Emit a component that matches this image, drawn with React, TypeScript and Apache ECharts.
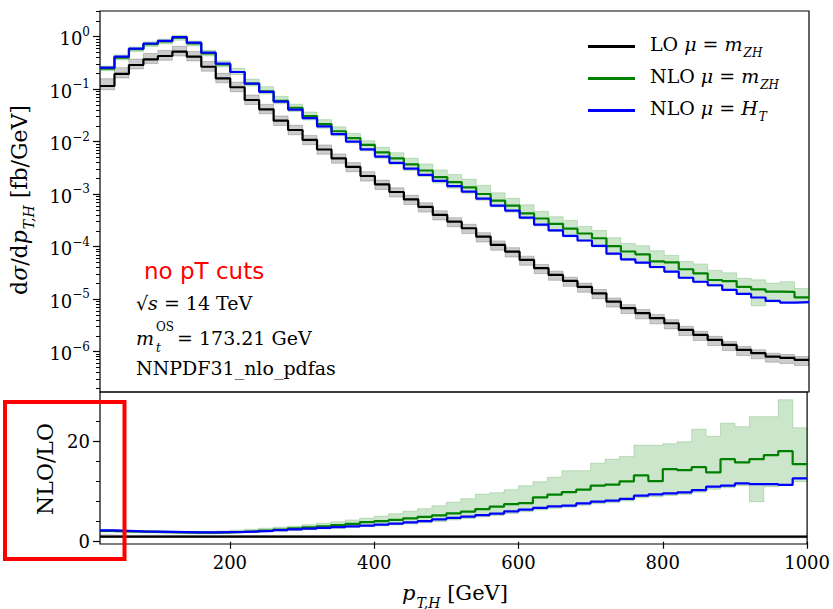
import React, { useEffect, useRef } from 'react';
import * as echarts from 'echarts';

// ---------------- data ----------------
const binEdges = [
  20, 40, 60, 80, 100, 120, 140, 160, 180, 200,
  220, 240, 260, 280, 300, 320, 340, 360, 380, 400,
  420, 440, 460, 480, 500, 520, 540, 560, 580, 600,
  620, 640, 660, 680, 700, 720, 740, 760, 780, 800,
  820, 840, 860, 880, 900, 920, 940, 960, 980, 1000,
];

// LO dσ/dpT [fb/GeV], one value per 20 GeV bin
const loXsec = [
  0.115, 0.195, 0.289, 0.371, 0.429, 0.518, 0.416, 0.268, 0.161, 0.109,
  0.0623, 0.0414, 0.0251, 0.0167, 0.0108, 0.0071, 0.00479, 0.0033, 0.00222, 0.00153,
  0.0011, 0.000793, 0.00057, 0.000402, 0.000299, 0.000224, 0.000155, 0.000108, 8.03e-5, 5.58e-5,
  3.88e-5, 2.89e-5, 2.22e-5, 1.71e-5, 1.29e-5, 8.96e-6, 6.71e-6, 5.39e-6, 4.33e-6, 3.47e-6,
  2.59e-6, 2.08e-6, 1.67e-6, 1.34e-6, 1.08e-6, 9.33e-7, 8.04e-7, 7.58e-7, 6.95e-7,
];
// LO scale-variation envelope, relative to LO central
const loScaleUp = [
  1.38, 1.32, 1.3, 1.29, 1.28, 1.27, 1.26, 1.26, 1.25, 1.25,
  1.24, 1.24, 1.23, 1.23, 1.22, 1.22, 1.22, 1.21, 1.21, 1.21,
  1.2, 1.2, 1.2, 1.2, 1.19, 1.19, 1.19, 1.19, 1.19, 1.18,
  1.18, 1.18, 1.18, 1.18, 1.18, 1.17, 1.17, 1.17, 1.17, 1.17,
  1.17, 1.17, 1.17, 1.16, 1.16, 1.16, 1.16, 1.16, 1.16,
];
const loScaleDown = [
  0.85, 0.84, 0.84, 0.83, 0.83, 0.83, 0.83, 0.82, 0.82, 0.82,
  0.82, 0.82, 0.81, 0.81, 0.81, 0.81, 0.81, 0.81, 0.8, 0.8,
  0.8, 0.8, 0.8, 0.8, 0.8, 0.79, 0.79, 0.79, 0.79, 0.79,
  0.79, 0.79, 0.79, 0.79, 0.79, 0.79, 0.79, 0.78, 0.78, 0.78,
  0.78, 0.78, 0.78, 0.78, 0.78, 0.78, 0.78, 0.78, 0.78,
];
// NLO / LO, μ = m_ZH (central)
const ratioNloMzh = [
  2.15, 2.05, 2.0, 1.95, 1.9, 1.85, 1.8, 1.8, 1.85, 1.95,
  2.05, 2.2, 2.4, 2.65, 2.85, 3.05, 3.3, 3.55, 3.9, 4.1,
  4.35, 4.65, 4.95, 5.25, 5.65, 6.0, 6.5, 7.0, 7.5, 7.7,
  8.85, 9.4, 9.9, 10.4, 11.2, 11.4, 12.05, 13.25, 12.1, 14.5,
  14.3, 14.9, 13.85, 16.5, 15.85, 16.5, 17.3, 18.1, 15.5,
];
// NLO / LO, μ = m_ZH scale band
const ratioNloMzhHigh = [
  2.4, 2.3, 2.2, 2.15, 2.1, 2.05, 2.0, 2.05, 2.15, 2.3,
  2.5, 2.7, 2.9, 3.1, 3.4, 3.7, 4.0, 4.35, 4.7, 5.1,
  5.6, 6.1, 6.6, 7.2, 7.9, 8.6, 9.5, 9.8, 10.4, 11.2,
  12.0, 12.9, 14.2, 14.2, 15.7, 16.5, 17.05, 19.3, 19.3, 19.6,
  20.0, 22.5, 21.1, 23.7, 23.0, 25.0, 25.0, 28.4, 22.8,
];
const ratioNloMzhLow = [
  1.95, 1.85, 1.8, 1.75, 1.7, 1.65, 1.6, 1.6, 1.65, 1.75,
  1.85, 1.95, 2.1, 2.25, 2.4, 2.55, 2.7, 2.85, 3.0, 3.15,
  3.35, 3.55, 3.8, 4.05, 4.35, 4.65, 4.95, 5.25, 5.65, 6.0,
  6.35, 6.7, 6.9, 7.3, 7.6, 7.8, 8.15, 8.8, 9.0, 9.25,
  9.45, 9.9, 10.5, 10.8, 11.25, 8.0, 11.0, 11.3, 12.0,
];
// NLO / LO, μ = H_T
const ratioNloHt = [
  2.25, 2.15, 2.05, 2.0, 1.95, 1.9, 1.85, 1.85, 1.9, 1.95,
  2.05, 2.15, 2.3, 2.45, 2.6, 2.75, 2.9, 3.05, 3.2, 3.4,
  3.6, 3.85, 4.1, 4.45, 4.75, 5.0, 5.3, 5.6, 6.05, 6.4,
  6.75, 7.05, 7.2, 7.65, 8.0, 8.2, 8.55, 9.2, 9.45, 9.65,
  9.85, 10.3, 11.0, 11.2, 11.65, 11.5, 11.5, 11.35, 12.65,
];

const xTickValues = [200, 400, 600, 800, 1000];
const topDecades = [-6, -5, -4, -3, -2, -1, 0];
const ratioMajorTicks = [0, 20];
const ratioMinorTicks = [4, 8, 12, 16, 24, 28];

const seriesNames = ['LO μ = m_ZH', 'NLO μ = m_ZH', 'NLO μ = H_T'];
const seriesColors = ['#000000', '#008000', '#0000ff'];

// ---------------- helpers ----------------
const SERIF = 'DejaVu Serif';
const TOP_MIN = -6.77;
const TOP_MAX = 0.49;
const R_MIN = -0.46;
const R_MAX = 29.94;

const lg = (v: number) => Math.log10(v);
const id = (v: number) => v;

const nloMzh = loXsec.map((v, i) => v * ratioNloMzh[i]);
const nloHt = loXsec.map((v, i) => v * ratioNloHt[i]);
const nloMzhHigh = loXsec.map((v, i) => v * ratioNloMzhHigh[i]);
const nloMzhLow = loXsec.map((v, i) => v * ratioNloMzhLow[i]);
const loHigh = loXsec.map((v, i) => v * loScaleUp[i]);
const loLow = loXsec.map((v, i) => v * loScaleDown[i]);
const loRatio = loXsec.map((v) => v / v);

function stepData(vals: number[], tf: (v: number) => number) {
  const pts = vals.map((v, i) => [binEdges[i], tf(v)]);
  pts.push([binEdges[vals.length], tf(vals[vals.length - 1])]);
  return pts;
}

function lineSeries(name: string, vals: number[], color: string, axis: number, tf: (v: number) => number, z: number) {
  return {
    type: 'line',
    name,
    xAxisIndex: axis,
    yAxisIndex: axis * 2,
    data: stepData(vals, tf),
    step: 'end',
    showSymbol: false,
    symbol: 'none',
    clip: true,
    z,
    lineStyle: { color, width: 2.2 },
    itemStyle: { color },
    emphasis: { disabled: true },
  };
}

// filled step band (one polygon) between lo and hi, placed via the axes
function bandSeries(lo: number[], hi: number[], fill: string, stroke: string, axis: number, tf: (v: number) => number, z: number) {
  return {
    type: 'custom',
    xAxisIndex: axis,
    yAxisIndex: axis * 2,
    silent: true,
    clip: true,
    z,
    data: [[binEdges[0], tf(lo[0])]],
    renderItem: (_params: any, api: any) => {
      const pts: number[][] = [];
      for (let i = 0; i < hi.length; i++) {
        pts.push(api.coord([binEdges[i], tf(hi[i])]));
        pts.push(api.coord([binEdges[i + 1], tf(hi[i])]));
      }
      for (let i = lo.length - 1; i >= 0; i--) {
        pts.push(api.coord([binEdges[i + 1], tf(lo[i])]));
        pts.push(api.coord([binEdges[i], tf(lo[i])]));
      }
      return {
        type: 'polygon',
        shape: { points: pts },
        style: { fill, stroke, lineWidth: 1 },
      };
    },
  };
}

const topMinorTicks: number[] = [];
for (let n = -7; n <= 0; n++) {
  for (let k = 2; k <= 9; k++) {
    const v = n + Math.log10(k);
    if (v > TOP_MIN && v < TOP_MAX) topMinorTicks.push(v);
  }
}

function makeRich(size: number, lead: number) {
  const sub = Math.round(size * 0.65);
  const lh = size + 6;
  const base = { fontFamily: SERIF, fontSize: size, lineHeight: lh, verticalAlign: 'top', color: '#000', fill: '#000' };
  return {
    t: { ...base },
    f: { ...base, padding: [0, 0, 0, lead] },
    i: { ...base, fontStyle: 'italic' },
    s: { ...base, fontStyle: 'italic', fontSize: sub, lineHeight: sub, padding: [lh - sub, 0, 0, 1] },
  };
}

const legendRich = makeRich(19, 10);
const noteRich = makeRich(19, 0);
const titleRich = makeRich(21, 0);
const yTitleRich = makeRich(22, 0);

const legendText: Record<string, string> = {
  'LO μ = m_ZH': '{f|LO }{i|μ}{t| = }{i|m}{s|ZH}',
  'NLO μ = m_ZH': '{f|NLO }{i|μ}{t| = }{i|m}{s|ZH}',
  'NLO μ = H_T': '{f|NLO }{i|μ}{t| = }{i|H}{s|T}',
};

function topLabel(v: number) {
  const e = Math.round(v);
  return `{b|10}{e|${e < 0 ? '−' + -e : e}}`;
}

const tickFont = { fontFamily: SERIF, fontSize: 18, color: '#000' };

function buildOption() {
  return {
    animation: false,
    backgroundColor: '#fff',
    grid: [
      { left: 100, top: 11, width: 709, height: 381, show: true, borderColor: '#000', borderWidth: 1.2, backgroundColor: 'transparent' },
      { left: 100, top: 392, width: 709, height: 152, show: true, borderColor: '#000', borderWidth: 1.2, backgroundColor: 'transparent' },
    ],
    xAxis: [
      {
        type: 'value', gridIndex: 0, min: 20, max: 1000,
        axisLine: { show: false }, axisTick: { show: false }, axisLabel: { show: false }, splitLine: { show: false },
      },
      {
        type: 'value', gridIndex: 1, min: 20, max: 1000,
        axisLine: { show: false }, splitLine: { show: false },
        axisTick: { show: true, customValues: xTickValues, length: 7, lineStyle: { color: '#000', width: 1.2 } },
        axisLabel: { customValues: xTickValues, margin: 9, formatter: (v: number) => String(v), ...tickFont },
      },
    ],
    yAxis: [
      {
        type: 'value', gridIndex: 0, position: 'left', min: TOP_MIN, max: TOP_MAX,
        axisLine: { show: false }, splitLine: { show: false },
        axisTick: { show: true, customValues: topDecades, length: 7, lineStyle: { color: '#000', width: 1.2 } },
        axisLabel: {
          customValues: topDecades, margin: 10, formatter: topLabel,
          rich: {
            b: { fontFamily: SERIF, fontSize: 18, lineHeight: 22, verticalAlign: 'bottom', color: '#000' },
            e: { fontFamily: SERIF, fontSize: 12, lineHeight: 12, verticalAlign: 'top', color: '#000' },
          },
        },
      },
      {
        type: 'value', gridIndex: 0, position: 'left', min: TOP_MIN, max: TOP_MAX,
        axisLine: { show: false }, splitLine: { show: false }, axisLabel: { show: false },
        axisTick: { show: true, customValues: topMinorTicks, length: 4, lineStyle: { color: '#000', width: 1 } },
      },
      {
        type: 'value', gridIndex: 1, position: 'left', min: R_MIN, max: R_MAX,
        axisLine: { show: false }, splitLine: { show: false },
        axisTick: { show: true, customValues: ratioMajorTicks, length: 7, lineStyle: { color: '#000', width: 1.2 } },
        axisLabel: { customValues: ratioMajorTicks, margin: 10, ...tickFont },
      },
      {
        type: 'value', gridIndex: 1, position: 'left', min: R_MIN, max: R_MAX,
        axisLine: { show: false }, splitLine: { show: false }, axisLabel: { show: false },
        axisTick: { show: true, customValues: ratioMinorTicks, length: 4, lineStyle: { color: '#000', width: 1 } },
      },
    ],
    legend: {
      show: true,
      orient: 'vertical',
      left: 583,
      top: 29,
      itemWidth: 47,
      itemHeight: 3,
      itemGap: 7,
      icon: 'rect',
      selectedMode: false,
      data: seriesNames,
      formatter: (name: string) => legendText[name] || name,
      textStyle: { rich: legendRich },
    },
    series: [
      bandSeries(loLow, loHigh, 'rgba(0,0,0,0.2)', 'rgba(0,0,0,0.2)', 0, lg, 1),
      bandSeries(nloMzhLow, nloMzhHigh, 'rgba(0,128,0,0.2)', 'rgba(0,128,0,0.2)', 0, lg, 1),
      lineSeries(seriesNames[0], loXsec, seriesColors[0], 0, lg, 3),
      lineSeries(seriesNames[1], nloMzh, seriesColors[1], 0, lg, 4),
      lineSeries(seriesNames[2], nloHt, seriesColors[2], 0, lg, 5),
      bandSeries(loScaleDown, loScaleUp, 'rgba(0,0,0,0.2)', 'rgba(0,0,0,0.2)', 1, id, 1),
      bandSeries(ratioNloMzhLow, ratioNloMzhHigh, 'rgba(0,128,0,0.2)', 'rgba(0,128,0,0.2)', 1, id, 1),
      lineSeries('LO / LO', loRatio, seriesColors[0], 1, id, 3),
      lineSeries('NLO μ = m_ZH / LO', ratioNloMzh, seriesColors[1], 1, id, 4),
      lineSeries('NLO μ = H_T / LO', ratioNloHt, seriesColors[2], 1, id, 5),
    ],
    graphic: [
      {
        type: 'text', x: 144, y: 271, z: 10,
        style: { text: 'no pT cuts', fill: '#ff0000', fontFamily: 'DejaVu Sans', fontSize: 23, textAlign: 'left', textVerticalAlign: 'middle' },
      },
      {
        type: 'text', x: 136, y: 306, z: 10,
        style: { text: '{t|√}{i|s}{t| = 14 TeV}', rich: noteRich, textAlign: 'left', textVerticalAlign: 'middle' },
      },
      {
        type: 'text', x: 136, y: 338, z: 10,
        style: { text: 'm', fill: '#000', fontFamily: SERIF, fontStyle: 'italic', fontSize: 19, textAlign: 'left', textVerticalAlign: 'middle' },
      },
      {
        type: 'text', x: 156, y: 327, z: 10,
        style: { text: 'OS', fill: '#000', fontFamily: SERIF, fontSize: 12, textAlign: 'left', textVerticalAlign: 'middle' },
      },
      {
        type: 'text', x: 156, y: 348, z: 10,
        style: { text: 't', fill: '#000', fontFamily: SERIF, fontStyle: 'italic', fontSize: 12, textAlign: 'left', textVerticalAlign: 'middle' },
      },
      {
        type: 'text', x: 177, y: 338, z: 10,
        style: { text: '= 173.21 GeV', fill: '#000', fontFamily: SERIF, fontSize: 19, textAlign: 'left', textVerticalAlign: 'middle' },
      },
      {
        type: 'text', x: 136, y: 368, z: 10,
        style: { text: 'NNPDF31_nlo_pdfas', fill: '#000', fontFamily: SERIF, fontSize: 19, textAlign: 'left', textVerticalAlign: 'middle' },
      },
      {
        type: 'text', x: 22, y: 200, rotation: Math.PI / 2, z: 10,
        style: { text: '{t|d}{i|σ}{t|/d}{i|p}{s|T,H}{t| [fb/GeV]}', rich: yTitleRich, textAlign: 'center', textVerticalAlign: 'middle' },
      },
      {
        type: 'text', x: 45, y: 469, rotation: Math.PI / 2, z: 10,
        style: { text: 'NLO/LO', fill: '#000', fontFamily: SERIF, fontSize: 22, textAlign: 'center', textVerticalAlign: 'middle' },
      },
      {
        type: 'text', x: 455, y: 596, z: 10,
        style: { text: '{i|p}{s|T,H}{t| [GeV]}', rich: titleRich, textAlign: 'center', textVerticalAlign: 'middle' },
      },
      {
        type: 'rect', z: 20,
        shape: { x: 5, y: 402, width: 119.5, height: 157 },
        style: { fill: 'none', stroke: '#ff0000', lineWidth: 4 },
      },
    ],
  };
}

export default function App() {
  const ref = useRef<HTMLDivElement | null>(null);
  useEffect(() => {
    if (!ref.current) return;
    const chart = echarts.init(ref.current, undefined, { renderer: 'svg' });
    chart.setOption(buildOption() as any);
    return () => {
      chart.dispose();
    };
  }, []);
  return (
    <div
      ref={ref}
      style={{ position: 'absolute', left: 0, top: 0, width: 833, height: 609, background: '#fff' }}
    />
  );
}
